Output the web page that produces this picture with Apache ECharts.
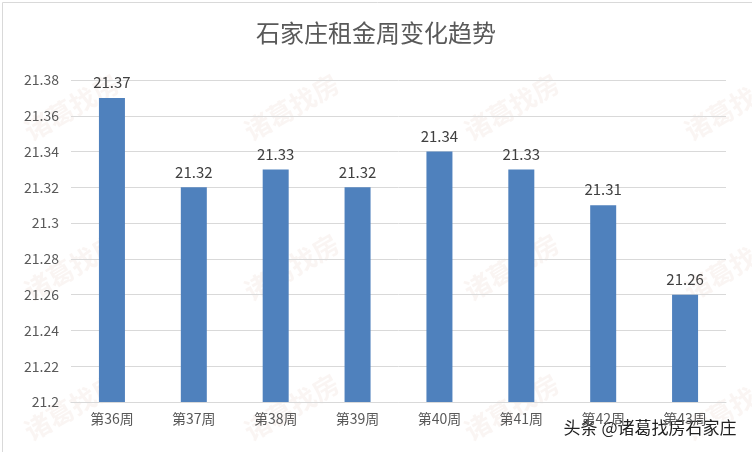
<!DOCTYPE html>
<html><head><meta charset="utf-8">
<script src="https://cdn.jsdelivr.net/npm/echarts@6/dist/echarts.min.js"></script>
<style>html,body{margin:0;padding:0;background:#fff}#c{width:752px;height:452px}</style>
</head><body><div id="c"></div>
<script>
var weeks = ['第36周','第37周','第38周','第39周','第40周','第41周','第42周','第43周'];
var rents = [21.37,21.32,21.33,21.32,21.34,21.33,21.31,21.26];

var chart = echarts.init(document.getElementById('c'));
var font = '"Noto Sans CJK SC", sans-serif';
//水印
var marks = [];
[[80,70],[300,70],[520,70],[740,70],[80,230],[300,230],[520,230],[740,230],[80,370],[300,370],[520,370],[740,370]].forEach(function(p){
	marks.push({type:'text',left:p[0]-60,top:p[1],rotation:Math.PI/6,silent:true,
		style:{text:'诸葛找房',fontSize:26,fontWeight:'bold',fontFamily:font,fill:'rgba(230,200,190,0.18)'}});
});
marks.push({type:'rect',left:0,top:0,shape:{width:751,height:451},style:{fill:'none',stroke:'#d9d9d9',lineWidth:1}});
marks.push({type:'text',right:14,top:418,style:{text:'头条 @诸葛找房石家庄',fontSize:17,fontFamily:font,fill:'#222',stroke:'#fff',lineWidth:3}});
var option = {
	title:{text:'石家庄租金周变化趋势',left:'center',top:16,textStyle:{fontFamily:font,fontSize:24,fontWeight:'normal',color:'#595959'}},
	grid:{left:71,right:26,top:80,bottom:50},
	xAxis:{type:'category',data:weeks,axisTick:{show:false},
		axisLine:{lineStyle:{color:'#d9d9d9'}},
		axisLabel:{fontFamily:font,fontSize:14,color:'#595959',margin:10}},
	yAxis:{type:'value',min:21.2,max:21.38,interval:0.02,
		splitLine:{lineStyle:{color:'#d9d9d9'}},
		axisLabel:{fontFamily:font,fontSize:14,color:'#595959',margin:12}},
	series:[{type:'bar',data:rents,barWidth:26,itemStyle:{color:'#4f81bd'},
		label:{show:true,position:'top',distance:8,fontFamily:font,fontSize:15,color:'#404040'}}],
	graphic:marks
};
chart.setOption(option);
</script></body></html>
